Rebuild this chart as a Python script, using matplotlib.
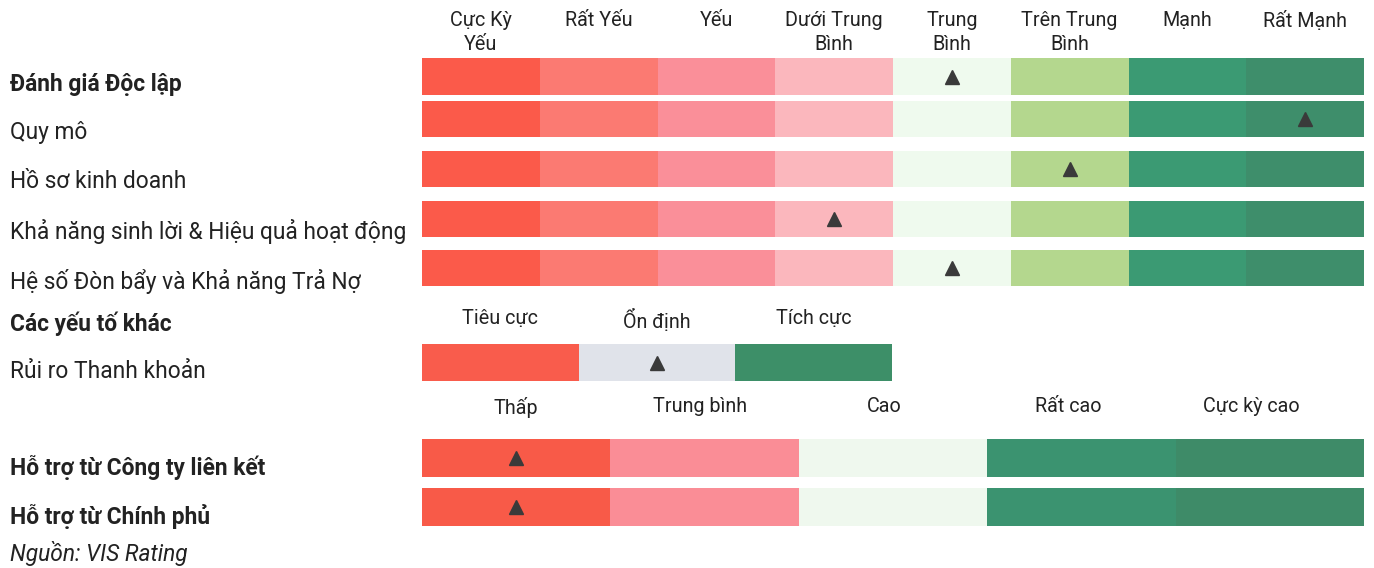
import matplotlib.pyplot as plt

plt.rcParams['font.family'] = ['Roboto', 'DejaVu Sans']

# thang 8 bac
levels8 = ["Cực Kỳ\nYếu", "Rất Yếu", "Yếu", "Dưới Trung\nBình", "Trung\nBình",
           "Trên Trung\nBình", "Mạnh", "Rất Mạnh"]
colors8 = ["#fb5a4a", "#fb7a72", "#fa8f99", "#fbb7bd", "#effaee",
           "#b4d78e", "#3b9a73", "#3e8e6b"]
rows8 = ["Quy mô", "Hồ sơ kinh doanh", "Khả năng sinh lời & Hiệu quả hoạt động",
         "Hệ số Đòn bẩy và Khả năng Trả Nợ"]
score_overall = 4
scores8 = [7, 5, 3, 4]

# thanh khoan
levels3 = ["Tiêu cực", "Ổn định", "Tích cực"]
colors3 = ["#f95c4c", "#e0e3ea", "#3d8f68"]
score_liq = 1

# ho tro
levels5 = ["Thấp", "Trung bình", "Cao", "Rất cao", "Cực kỳ cao"]
colors5 = ["#f85a48", "#fa8d96", "#eff8ee", "#3b9370", "#3e8b68"]
rows5 = ["Hỗ trợ từ Công ty liên kết", "Hỗ trợ từ Chính phủ"]
scores5 = [0, 0]

fig = plt.figure(figsize=(13.74, 5.68), dpi=100)
ax = fig.add_axes([0, 0, 1, 1])
ax.set_xlim(0, 1374)
ax.set_ylim(568, 0)
ax.axis('off')

x0, x1 = 422, 1364
txt = "#222222"
fs = 16.4


def scale_bar(yc, colors, score, width_total=x1 - x0, h=37):
    n = len(colors)
    w = width_total / n
    lefts = [x0 + i * w for i in range(n)]
    ax.barh(yc, [w] * n, left=lefts, height=h, color=colors, linewidth=0)
    ax.plot(x0 + (score + 0.5) * w, yc, marker='^', color="#3a3a3a",
            markersize=10, linestyle='none')


def scale_labels(levels, y, width_total=x1 - x0, size=14.2, shift=0.0):
    n = len(levels)
    w = width_total / n
    for i, lab in enumerate(levels):
        ax.text(x0 + (i + 0.5) * w - shift * i, y, lab, ha='center', va='top',
                fontsize=size, color=txt, linespacing=1.3)


# header 8 bac
scale_labels(levels8, 11)

ax.text(10, 85, "Đánh giá Độc lập", fontsize=fs, fontweight='bold',
        color=txt, va='center')
scale_bar(76.5, colors8, score_overall)

ys8 = [119, 168.5, 219, 268]
for name, yc, s in zip(rows8, ys8, scores8):
    ax.text(10, yc + 13, name, fontsize=fs, color=txt, va='center')
    scale_bar(yc, colors8, s, h=36)

# cac yeu to khac
ax.text(10, 324, "Các yếu tố khác", fontsize=fs, fontweight='bold',
        color=txt, va='center')
scale_labels(levels3, 309, width_total=470)
ax.text(10, 372, "Rủi ro Thanh khoản", fontsize=fs, color=txt, va='center')
scale_bar(362.5, colors3, score_liq, width_total=470)

# ho tro
scale_labels(levels5, 397, shift=4.5)
ys5 = [457.5, 506.5]
for name, yc, s in zip(rows5, ys5, scores5):
    ax.text(10, yc + 10, name, fontsize=fs, fontweight='bold',
            color=txt, va='center')
    scale_bar(yc, colors5, s, h=38)

ax.text(10, 553, "Nguồn: VIS Rating", fontsize=fs, style='italic',
        color=txt, va='center')

fig.savefig("out.png", dpi=100, facecolor='white')
